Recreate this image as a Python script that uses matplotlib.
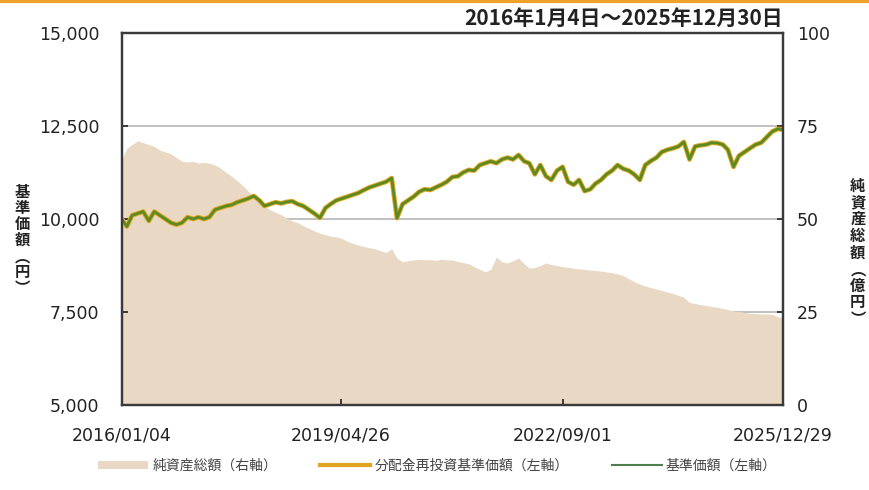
import pandas as pd
import matplotlib
matplotlib.use('Agg')
import matplotlib.pyplot as plt
from matplotlib.patches import Patch
from matplotlib.lines import Line2D

plt.rcParams['font.family'] = ['Noto Sans CJK JP', 'DejaVu Sans']

# monthly points, 2016/01/04 .. 2025/12/29
dates = ([pd.Timestamp('2016-01-04')]
         + list(pd.date_range('2016-02-01', '2025-12-01', freq='MS'))
         + [pd.Timestamp('2025-12-29')])

# 基準価額 (円)
nav_price = [
    10000, 9800, 10100, 10150, 10200, 9950, 10200, 10100, 10000, 9900, 9850, 9900,
    10050, 10000, 10050, 10000, 10050, 10250, 10300, 10350, 10380, 10450, 10500, 10550,
    10620, 10500, 10350, 10400, 10450, 10420, 10460, 10480, 10400, 10350, 10250, 10150,
    10030, 10300, 10400, 10500, 10550, 10600, 10650, 10700, 10780, 10850, 10900, 10950,
    11000, 11100, 10025, 10400, 10500, 10600, 10730, 10800, 10780, 10850, 10920, 11000,
    11130, 11150, 11250, 11320, 11300, 11450, 11500, 11550, 11500, 11600, 11650, 11600,
    11720, 11550, 11500, 11200, 11450, 11150, 11050, 11300, 11400, 11000, 10920, 11050,
    10750, 10800, 10950, 11050, 11200, 11300, 11450, 11350, 11300, 11200, 11050, 11450,
    11560, 11650, 11800, 11860, 11900, 11950, 12070, 11600, 11950, 11980, 12000, 12050,
    12040, 12000, 11860, 11400, 11700, 11800, 11900, 12000, 12050, 12200, 12350, 12420,
    12400,
]

# 分配金再投資基準価額 (円) - no distributions, same as 基準価額
reinvest_price = list(nav_price)

# 純資産総額 (億円)
net_assets = [
    66, 69, 70, 71, 70.5, 70, 69.5, 68.5, 68, 67.5, 66.5, 65.5,
    65.3, 65.5, 65, 65.2, 65, 64.5, 63.7, 62.5, 61.5, 60.3, 59, 57.5,
    56, 54.5, 53.5, 52.5, 51.8, 51.2, 50.3, 49.5, 49, 48.2, 47.5, 46.8,
    46.2, 45.8, 45.4, 45.2, 44.8, 44, 43.5, 43, 42.6, 42.3, 42, 41.5,
    41, 42, 39.5, 38.5, 38.8, 39, 39.2, 39, 39.1, 38.9, 39.2, 39,
    39, 38.6, 38.3, 38, 37.2, 36.5, 35.8, 36.5, 39.8, 38.5, 38.2, 38.8,
    39.5, 38, 36.8, 37, 37.5, 38.2, 37.8, 37.5, 37.2, 37, 36.8, 36.6,
    36.5, 36.3, 36.2, 36, 35.8, 35.6, 35.3, 34.8, 34, 33.2, 32.5, 32,
    31.6, 31.2, 30.8, 30.4, 30, 29.5, 29, 27.6, 27.3, 27, 26.8, 26.5,
    26.3, 26, 25.7, 25.3, 25.2, 24.9, 24.7, 24.6, 24.5, 24.5, 24.4, 23.8,
    23.4,
]

tick_dates = ['2016-01-04', '2019-04-26', '2022-09-01', '2025-12-29']
tick_labels = ['2016/01/04', '2019/04/26', '2022/09/01', '2025/12/29']

area_color = '#e9d8c4'
orange = '#e3a520'
green = '#5a8a22'

fig = plt.figure(figsize=(8.7, 4.9), dpi=100)
ax = fig.add_axes([0.140, 0.173, 0.760, 0.760])
ax2 = ax.twinx()

# area on the right axis, grid under it
ax2.set_axisbelow(True)
ax2.fill_between(dates, net_assets, 0, color=area_color, lw=0, zorder=2)
ax2.set_ylim(0, 100)
ax2.set_yticks([0, 25, 50, 75, 100])
ax2.yaxis.grid(True, color='#b5b5b5', lw=1.2)

# lines on top
ax.set_zorder(ax2.get_zorder() + 1)
ax.patch.set_visible(False)
ax.plot(dates, reinvest_price, color=orange, lw=3.4, solid_joinstyle='round')
ax.plot(dates, nav_price, color=green, lw=2.0, solid_joinstyle='round')
ax.set_ylim(5000, 15000)
ax.set_yticks([5000, 7500, 10000, 12500, 15000])
ax.set_yticklabels([f'{v:,}' for v in [5000, 7500, 10000, 12500, 15000]])
ax.set_xlim(pd.Timestamp('2016-01-04'), pd.Timestamp('2025-12-30'))
ax.set_xticks([pd.Timestamp(d) for d in tick_dates])
ax.set_xticklabels(tick_labels)

for a in (ax, ax2):
    for s in a.spines.values():
        s.set_color('#3a3a3a')
        s.set_linewidth(1.6)
    a.tick_params(direction='in', length=4, width=1.4, color='#3a3a3a',
                  labelsize=11, labelcolor='#222222')
ax.tick_params(axis='y', pad=16)
ax.tick_params(axis='x', pad=15)
ax2.tick_params(axis='y', pad=10)
for lab in ax.get_xticklabels() + ax.get_yticklabels() + ax2.get_yticklabels():
    lab.set_family(['Liberation Sans Narrow', 'DejaVu Sans'])
    lab.set_fontsize(12.5)

# axis titles, stacked vertically
fig.text(0.026, 0.51, '基\n準\n価\n額\n︵\n円\n︶', ha='center', va='center',
         fontsize=11, fontweight='bold', color='#222222', linespacing=1.0)
fig.text(0.986, 0.485, '純\n資\n産\n総\n額\n︵\n億\n円\n︶', ha='center', va='center',
         fontsize=11, fontweight='bold', color='#222222', linespacing=1.05)

fig.text(0.900, 0.963, '2016年1月4日～2025年12月30日', ha='right', va='center',
         fontsize=15, fontweight='bold', color='#222222')

# orange bar at the very top
fig.add_artist(Line2D([0, 1], [0.997, 0.997], transform=fig.transFigure,
                      color='#efa22a', lw=3))

handles = [Patch(facecolor=area_color, edgecolor='none'),
           Line2D([], [], color=orange, lw=3),
           Line2D([], [], color='#4f7f4f', lw=1.5)]
labels = ['純資産総額（右軸）', '分配金再投資基準価額（左軸）', '基準価額（左軸）']
fig.legend(handles, labels, ncol=3, loc='center', bbox_to_anchor=(0.503, 0.05),
           frameon=False, fontsize=10, handlelength=3.6, handleheight=0.5,
           columnspacing=3.1, handletextpad=0.3, labelcolor='#444444')

fig.savefig('out.png', dpi=100)
